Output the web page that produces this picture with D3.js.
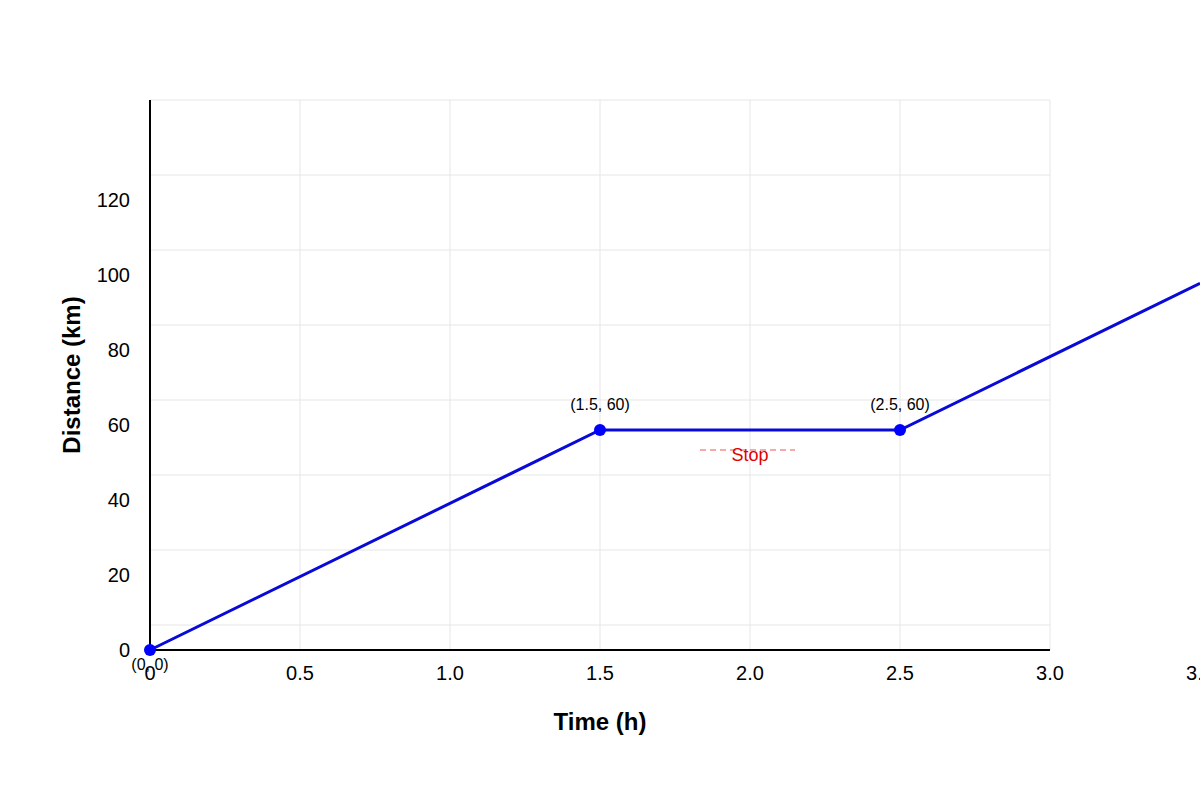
<!DOCTYPE html>
<html><head><meta charset="utf-8">
<script src="https://cdn.jsdelivr.net/npm/d3@7"></script>
<style>body{margin:0;background:#fff}svg{display:block;font-family:"Liberation Sans",Arial,sans-serif}</style>
</head><body>
<svg id="c" width="1200" height="800"></svg>
<script>
const times = [0, 1.5, 2.5, 3.5];
const distances = [0, 60, 60, 100];
const pointLabels = ["(0, 0)", "(1.5, 60)", "(2.5, 60)"];
const xTicks = [0, 0.5, 1.0, 1.5, 2.0, 2.5, 3.0, 3.5];
const yTicks = [0, 20, 40, 60, 80, 100, 120];
const stopLabel = "Stop";

const svg = d3.select("#c");
const x = d3.scaleLinear().domain([0, 3]).range([150, 1050]);
const y = d3.scaleLinear().domain([0, 150]).range([650, 100]);
const yLab = d3.scaleLinear().domain([0, 120]).range([650, 200]);
const gridY = d3.scaleLinear().domain([0, 7]).range([100, 625]);

const g = svg.append("g");
g.selectAll(".gy").data(d3.range(8)).join("line")
  .attr("x1", 150).attr("x2", 1050).attr("y1", d => gridY(d)).attr("y2", d => gridY(d))
  .attr("stroke", "#e6e6e6");
g.selectAll(".gx").data(xTicks.filter(d => d > 0 && d <= 3)).join("line")
  .attr("x1", d => x(d)).attr("x2", d => x(d)).attr("y1", 100).attr("y2", 650)
  .attr("stroke", "#e6e6e6");

svg.append("line").attr("x1", x(0)).attr("x2", x(0)).attr("y1", 100).attr("y2", 650).attr("stroke", "#000").attr("stroke-width", 2);
svg.append("line").attr("x1", x(0)).attr("x2", x(3)).attr("y1", 650).attr("y2", 650).attr("stroke", "#000").attr("stroke-width", 2);

svg.selectAll(".xt").data(xTicks).join("text")
  .attr("x", d => x(d)).attr("y", 680).attr("text-anchor", "middle")
  .attr("font-size", 20).text(d => d === 0 ? "0" : d.toFixed(1));
svg.selectAll(".yt").data(yTicks).join("text")
  .attr("x", 130).attr("y", d => yLab(d)).attr("dy", "0.33em").attr("text-anchor", "end")
  .attr("font-size", 20).text(d => d);

svg.append("text").attr("x", 600).attr("y", 730).attr("text-anchor", "middle")
  .attr("font-size", 24).attr("font-weight", "bold").text("Time (h)");
svg.append("text").attr("transform", "translate(80,375) rotate(-90)").attr("text-anchor", "middle")
  .attr("font-size", 24).attr("font-weight", "bold").text("Distance (km)");

const data = times.map((t, i) => ({t, d: distances[i]}));
svg.append("path").datum(data)
  .attr("d", d3.line().x(d => x(d.t)).y(d => y(d.d)))
  .attr("fill", "none").attr("stroke", "#0a0ad8").attr("stroke-width", 3);

const pts = data.slice(0, 3);
svg.selectAll(".pt").data(pts).join("circle")
  .attr("cx", d => x(d.t)).attr("cy", d => y(d.d)).attr("r", 6).attr("fill", "#0000ff");
svg.selectAll(".pl").data(pts).join("text")
  .attr("x", d => x(d.t)).attr("y", (d, i) => i === 0 ? y(d.d) + 20 : y(d.d) - 20)
  .attr("text-anchor", "middle").attr("font-size", 16).text((d, i) => pointLabels[i]);

const mid = (times[1] + times[2]) / 2;
svg.append("line").attr("x1", x(mid) - 50).attr("x2", x(mid) + 45)
  .attr("y1", y(distances[1]) + 20).attr("y2", y(distances[1]) + 20)
  .attr("stroke", "#ee5555").attr("stroke-dasharray", "6,4").attr("stroke-width", 1);
svg.append("text").attr("x", x(mid)).attr("y", y(distances[1]) + 31)
  .attr("text-anchor", "middle").attr("font-size", 18).attr("fill", "#e00000").text(stopLabel);
</script>
</body></html>
